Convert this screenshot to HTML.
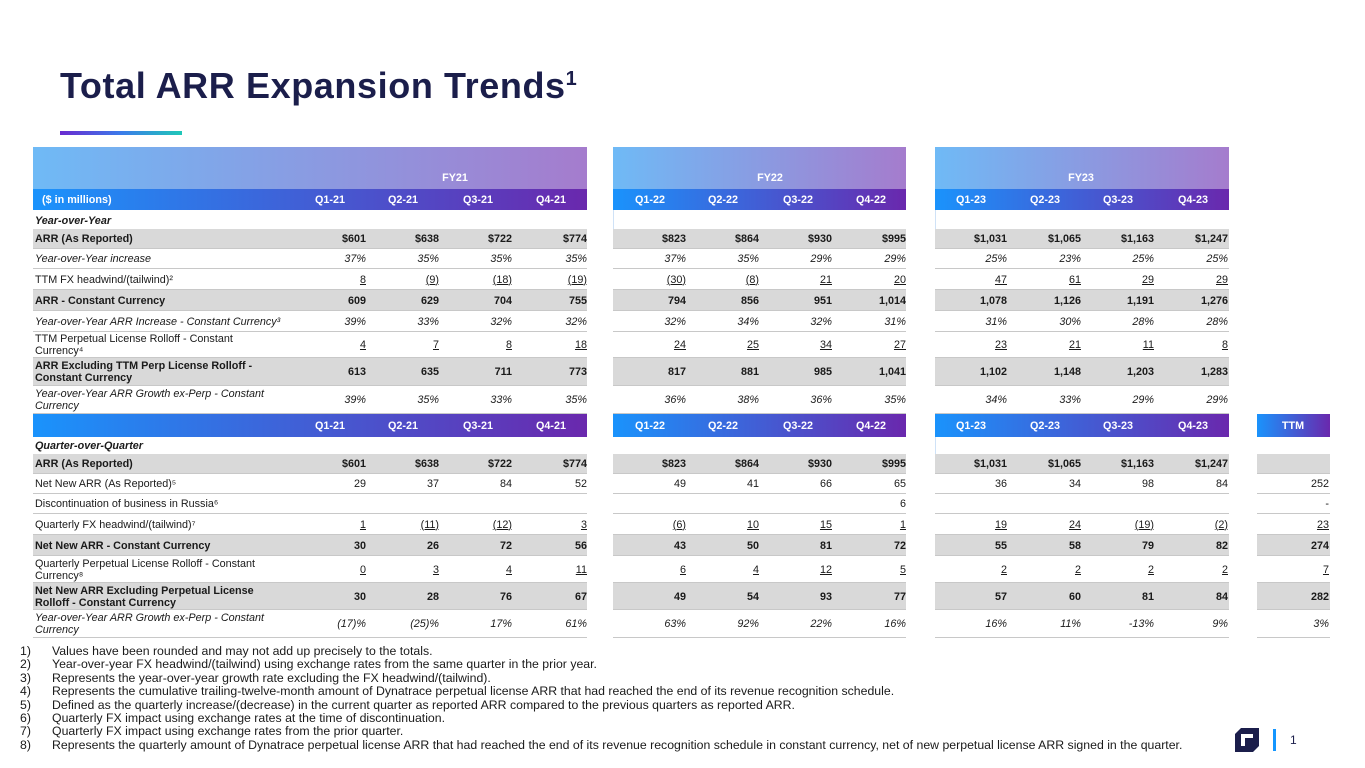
<!DOCTYPE html>
<html><head><meta charset="utf-8"><style>
*{margin:0;padding:0;box-sizing:border-box}
body{width:1365px;height:768px;background:#fff;position:relative;overflow:hidden;font-family:"Liberation Sans",sans-serif;color:#1a1a1a}
.a{position:absolute}
.t{position:absolute;font-size:10.8px;white-space:nowrap;line-height:12px}
.r{text-align:right}
.b{font-weight:bold}
.i{font-style:italic}
.u{text-decoration:underline}
.fn{position:absolute;left:20px;font-size:12.3px;line-height:13.4px;color:#1a1a1a;white-space:nowrap}
.fn span{display:inline-block;width:32px}
</style></head><body>
<div class="a" style="left:60px;top:65px;font-size:36px;font-weight:bold;color:#1b1e4b;letter-spacing:0.6px">Total ARR Expansion Trends<sup style="font-size:20px">1</sup></div>
<div class="a" style="left:60px;top:131px;width:122px;height:4px;background:linear-gradient(90deg,#6a2ad0,#3b7bea,#1fc8b8)"></div>
<div id="tbl"></div>
<div class="fn" style="top:645px"><span>1)</span>Values have been rounded and may not add up precisely to the totals.<br><span>2)</span>Year-over-year FX headwind/(tailwind) using exchange rates from the same quarter in the prior year.<br><span>3)</span>Represents the year-over-year growth rate excluding the FX headwind/(tailwind).<br><span>4)</span>Represents the cumulative trailing-twelve-month amount of Dynatrace perpetual license ARR that had reached the end of its revenue recognition schedule.<br><span>5)</span>Defined as the quarterly increase/(decrease) in the current quarter as reported ARR compared to the previous quarters as reported ARR.<br><span>6)</span>Quarterly FX impact using exchange rates at the time of discontinuation.<br><span>7)</span>Quarterly FX impact using exchange rates from the prior quarter.<br><span>8)</span>Represents the quarterly amount of Dynatrace perpetual license ARR that had reached the end of its revenue recognition schedule in constant currency, net of new perpetual license ARR signed in the quarter.</div>
<svg class="a" style="left:1233px;top:726px" width="28" height="28" viewBox="0 0 28 28"><path d="M8 2h18v18l-6 6H2V8z" fill="#1b1e4b"/><path d="M8 8h12v4H12v8H8z" fill="#fff"/></svg>
<div class="a" style="left:1273px;top:729px;width:3px;height:22px;background:#1496ff"></div>
<div class="a" style="left:1290px;top:733px;font-size:12px;color:#1b1e4b">1</div>
<script>
const blocks=[{x0:33,x1:587,right:[366,439,512,587],hc:[330,403,478,551],fy:"FY21",fyc:455},
{x0:613,x1:906,right:[686,759,832,906],hc:[650,723,798,871],fy:"FY22",fyc:770},
{x0:935,x1:1229,right:[1007,1081,1154,1228],hc:[971,1045,1118,1193],fy:"FY23",fyc:1081},
{x0:1257,x1:1330,right:[1329],hc:[1293],fy:"",fyc:0}];
const quartersA=[["Q1-21","Q2-21","Q3-21","Q4-21"],["Q1-22","Q2-22","Q3-22","Q4-22"],["Q1-23","Q2-23","Q3-23","Q4-23"],["TTM"]];
const yoyRows=[
["ARR (As Reported)",229,20,"g b",[["$601","$638","$722","$774"],["$823","$864","$930","$995"],["$1,031","$1,065","$1,163","$1,247"]],"b"],
["Year-over-Year increase",249,20,"i",[["37%","35%","35%","35%"],["37%","35%","29%","29%"],["25%","23%","25%","25%"]],"i"],
["TTM FX headwind/(tailwind)²",269,21,"u",[["8","(9)","(18)","(19)"],["(30)","(8)","21","20"],["47","61","29","29"]],""],
["ARR - Constant Currency",290,21,"g b",[["609","629","704","755"],["794","856","951","1,014"],["1,078","1,126","1,191","1,276"]],"b"],
["Year-over-Year ARR Increase - Constant Currency³",311,21,"i",[["39%","33%","32%","32%"],["32%","34%","32%","31%"],["31%","30%","28%","28%"]],"i"],
["TTM Perpetual License Rolloff - Constant<br>Currency⁴",332,26,"u",[["4","7","8","18"],["24","25","34","27"],["23","21","11","8"]],""],
["ARR Excluding TTM Perp License Rolloff -<br>Constant Currency",358,28,"g b",[["613","635","711","773"],["817","881","985","1,041"],["1,102","1,148","1,203","1,283"]],"b"],
["Year-over-Year ARR Growth ex-Perp - Constant<br>Currency",386,28,"i",[["39%","35%","33%","35%"],["36%","38%","36%","35%"],["34%","33%","29%","29%"]],"i"]];
const qoqRows=[
["ARR (As Reported)",454,20,"g b",[["$601","$638","$722","$774"],["$823","$864","$930","$995"],["$1,031","$1,065","$1,163","$1,247"],[""]],"b"],
["Net New ARR (As Reported)⁵",474,20,"",[["29","37","84","52"],["49","41","66","65"],["36","34","98","84"],["252"]],""],
["Discontinuation of business in Russia⁶",494,20,"",[["","","",""],["","","","6"],["","","",""],["-"]],""],
["Quarterly FX headwind/(tailwind)⁷",514,21,"u",[["1","(11)","(12)","3"],["(6)","10","15","1"],["19","24","(19)","(2)"],["23"]],""],
["Net New ARR - Constant Currency",535,21,"g b",[["30","26","72","56"],["43","50","81","72"],["55","58","79","82"],["274"]],"b"],
["Quarterly Perpetual License Rolloff - Constant<br>Currency⁸",556,27,"u",[["0","3","4","11"],["6","4","12","5"],["2","2","2","2"],["7"]],""],
["Net New ARR Excluding Perpetual License<br>Rolloff - Constant Currency",583,27,"g b",[["30","28","76","67"],["49","54","93","77"],["57","60","81","84"],["282"]],"b"],
["Year-over-Year ARR Growth ex-Perp - Constant<br>Currency",610,28,"i",[["(17)%","(25)%","17%","61%"],["63%","92%","22%","16%"],["16%","11%","-13%","9%"],["3%"]],"i"]];
const T=document.getElementById('tbl');
function box(x,y,w,h,bg,name){const d=document.createElement('div');d.className='a';d.style.cssText=`left:${x}px;top:${y}px;width:${w}px;height:${h}px;background:${bg}`;


T.appendChild(d);return d;}
function txt(x,y,s,cls,name,right){const d=document.createElement('div');d.className='t '+cls;d.innerHTML=s;
if(right){d.style.right=(1365-x)+'px';}else d.style.left=x+'px';d.style.top=y+'px';


T.appendChild(d);return d;}
function ctxt(cx,y,s,name){const d=txt(cx-40,y,s,'b','');d.style.width='80px';d.style.textAlign='center';d.style.color='#fff';

return d;}
blocks.forEach((b,bi)=>{
 if(bi<3){box(b.x0,147,b.x1-b.x0,42,'linear-gradient(90deg,#6fbaf6,#a57ccd)','fy-band');
 ctxt(b.fyc,172,b.fy,'fiscal-year-label');
 box(b.x0,189,b.x1-b.x0,21,'linear-gradient(90deg,#1a93fc,#6a28ad)','quarter-header');
 quartersA[bi].forEach((q,qi)=>ctxt(b.hc[qi],194,q,'quarter-label'));}
 box(b.x0,414,b.x1-b.x0,23,'linear-gradient(90deg,#1a93fc,#6a28ad)','quarter-header-2');
 quartersA[bi].forEach((q,qi)=>ctxt(b.hc[qi],420,q,'quarter-label'));
});
txt(42,194,'($ in millions)','b','units-label').style.color='#fff';
txt(35,215,'Year-over-Year','b i','section-label');
txt(35,440,'Quarter-over-Quarter','b i','section-label');
box(613,210,1,204,'#cfe2f7','block-border');box(935,210,1,204,'#cfe2f7','block-border');
box(935,437,1,120,'#cfe2f7','block-border');
function drawRows(rows){rows.forEach(r=>{const [lab,top,h,st,vals,ls]=r;const gray=st.includes('g');
 blocks.forEach((b,bi)=>{if(!vals[bi])return;
  box(b.x0,top,b.x1-b.x0,h,gray?'#d9d9d9':'#fff','row-bg');
  box(b.x0,top+h-1,b.x1-b.x0,1,'#c8c8c8','row-rule');
  vals[bi].forEach((v,vi)=>{if(v==='')return;const cl='r '+(st.includes('b')?'b ':'')+(st.includes('i')?'i ':'')+(st.includes('u')?'u':'');
   txt(b.right[vi],top+(h-12)/2,v,cl,'cell-value',true);});
 });
 const multi=lab.includes('<br>');
 txt(35,top+(multi?(h-24)/2:(h-12)/2),lab,ls,'row-label');
});}
drawRows(yoyRows);drawRows(qoqRows);
</script>
</body></html>
